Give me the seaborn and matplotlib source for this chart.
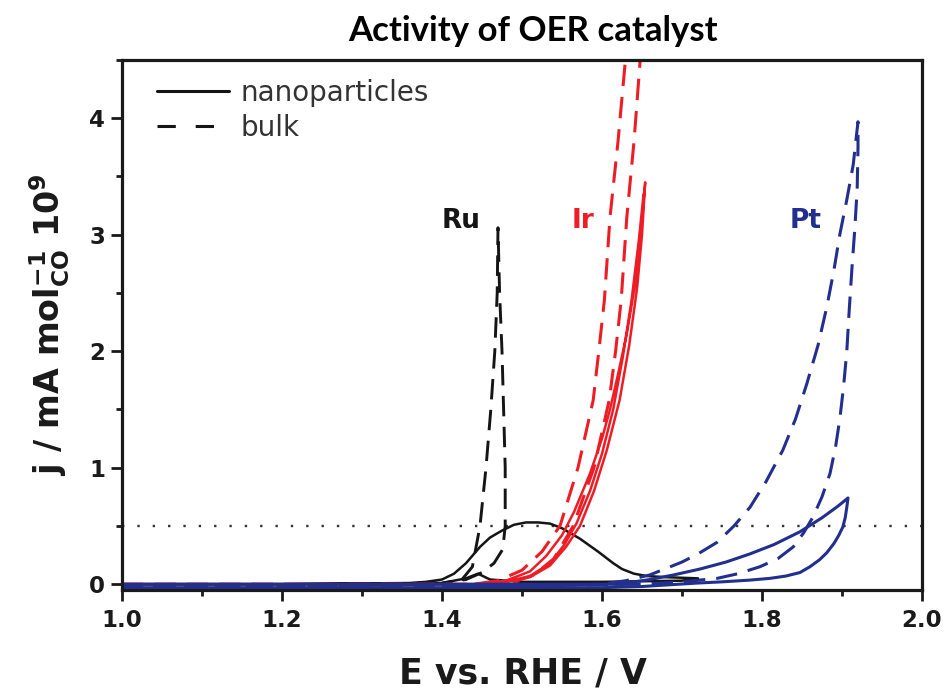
import matplotlib
matplotlib.use("Agg")
import matplotlib.pyplot as plt
import seaborn as sns
from matplotlib.lines import Line2D
from matplotlib.ticker import MultipleLocator

# Ru
ru_np_E = [1.00, 1.20, 1.36, 1.38, 1.40, 1.415, 1.43, 1.44, 1.4475, 1.46, 1.475, 1.49, 1.505, 1.52, 1.535, 1.55,
           1.5725, 1.595, 1.614, 1.625, 1.64, 1.656, 1.68, 1.72,
           1.70, 1.60, 1.50, 1.46, 1.445, 1.43, 1.40, 1.20, 1.00]
ru_np_j = [0.00, 0.00, 0.01, 0.02, 0.04, 0.09, 0.18, 0.26, 0.32, 0.40, 0.46, 0.51, 0.53, 0.53, 0.52, 0.48,
           0.39, 0.28, 0.18, 0.13, 0.09, 0.07, 0.06, 0.05,
           0.03, 0.02, 0.02, 0.04, 0.09, 0.05, 0.01, 0.00, 0.00]
ru_bulk_E = [1.00, 1.30, 1.40, 1.425, 1.438, 1.4475, 1.455, 1.461, 1.466, 1.469, 1.470,
             1.472, 1.475, 1.477, 1.479, 1.479, 1.476, 1.465, 1.45, 1.43, 1.40]
ru_bulk_j = [-0.01, -0.01, 0.00, 0.04, 0.15, 0.50, 1.00, 1.50, 2.00, 2.50, 3.06,
             2.50, 2.00, 1.50, 1.00, 0.50, 0.30, 0.18, 0.10, 0.04, 0.01]

# Ir
ir_np_E = [1.00, 1.30, 1.44, 1.48, 1.51, 1.535, 1.555, 1.5725, 1.59, 1.606, 1.622, 1.634, 1.644, 1.65, 1.654,
           1.649, 1.642, 1.631, 1.62, 1.61, 1.60, 1.585, 1.565, 1.55, 1.53, 1.51, 1.48, 1.44,
           1.48, 1.51, 1.535, 1.553, 1.568, 1.585, 1.60, 1.614, 1.626, 1.637, 1.646, 1.652]
ir_np_j = [0.00, 0.00, 0.00, 0.02, 0.06, 0.16, 0.32, 0.50, 0.80, 1.15, 1.58, 2.05, 2.55, 3.00, 3.45,
           3.05, 2.60, 2.15, 1.80, 1.50, 1.25, 0.95, 0.62, 0.42, 0.24, 0.11, 0.03, 0.00,
           0.02, 0.07, 0.18, 0.34, 0.52, 0.80, 1.12, 1.50, 1.95, 2.44, 2.95, 3.35]
ir_bulk_E = [1.00, 1.30, 1.44, 1.47, 1.50, 1.525, 1.5475, 1.57, 1.589, 1.596, 1.603, 1.61, 1.62, 1.629, 1.634,
             1.652, 1.6475, 1.64, 1.631, 1.624, 1.617, 1.609, 1.59, 1.564, 1.54, 1.515, 1.49, 1.46]
ir_bulk_j = [0.00, 0.00, 0.00, 0.03, 0.12, 0.28, 0.50, 1.00, 1.58, 2.00, 2.44, 3.15, 3.80, 4.48, 4.80,
             4.80, 4.48, 3.80, 3.15, 2.44, 2.00, 1.58, 1.00, 0.50, 0.22, 0.08, 0.02, 0.00]

# Pt
pt_np_E = [1.00, 1.30, 1.55, 1.62, 1.64, 1.66, 1.69, 1.7225, 1.755, 1.785, 1.815, 1.8475, 1.875, 1.895, 1.9075,
           1.906, 1.904, 1.901, 1.896, 1.89, 1.881, 1.872, 1.86, 1.8475, 1.83, 1.81, 1.785, 1.75, 1.72,
           1.65, 1.60, 1.30, 1.00]
pt_np_j = [0.00, 0.00, 0.00, 0.00, 0.02, 0.04, 0.08, 0.13, 0.19, 0.26, 0.34, 0.45, 0.57, 0.67, 0.74,
           0.66, 0.57, 0.49, 0.42, 0.35, 0.27, 0.21, 0.15, 0.10, 0.07, 0.05, 0.035, 0.02, 0.01,
           -0.02, -0.03, -0.03, -0.03]
pt_bulk_E = [1.00, 1.30, 1.55, 1.60, 1.63, 1.66, 1.70, 1.72, 1.744, 1.765, 1.785, 1.805, 1.826, 1.842, 1.856,
             1.87, 1.881, 1.89, 1.8975, 1.906, 1.914, 1.92,
             1.92, 1.919, 1.916, 1.9125, 1.909, 1.906, 1.902, 1.8975, 1.892, 1.885, 1.875, 1.864, 1.852,
             1.839, 1.82, 1.7975, 1.77, 1.744, 1.70, 1.65, 1.55, 1.40]
pt_bulk_j = [-0.015, -0.015, -0.01, 0.00, 0.03, 0.08, 0.19, 0.26, 0.36, 0.50, 0.66, 0.88, 1.15, 1.42, 1.72,
             2.05, 2.38, 2.70, 3.01, 3.30, 3.60, 3.97,
             3.75, 3.40, 3.05, 2.72, 2.35, 2.00, 1.70, 1.43, 1.18, 0.95, 0.75, 0.58, 0.44,
             0.32, 0.22, 0.15, 0.09, 0.05, 0.02, 0.00, -0.01, -0.015]

metal_labels = ["Ru", "Ir", "Pt"]
label_E = [1.424, 1.576, 1.854]
label_j = [3.12, 3.12, 3.12]

BLACK = "#151515"
RED = "#ee1d25"
BLUE = "#222f8e"
DASH = (0, (7, 3.6))

sns.set_style("ticks")
plt.rcParams["font.family"] = ["DejaVu Sans"]
plt.rcParams["axes.edgecolor"] = "#1a1a1a"
plt.rcParams["mathtext.fontset"] = "custom"
plt.rcParams["mathtext.rm"] = "DejaVu Sans:bold"
plt.rcParams["mathtext.it"] = "DejaVu Sans:bold"
plt.rcParams["mathtext.bf"] = "DejaVu Sans:bold"

fig = plt.figure(figsize=(9.47, 6.89), dpi=100)
ax = fig.add_axes([0.12883, 0.14369, 0.84477, 0.76923])


def draw(E, j, color, ls, lw):
    sns.lineplot(x=E, y=j, sort=False, estimator=None, color=color,
                 linestyle=ls, linewidth=lw, ax=ax, legend=False)


ax.axhline(0.5, color="#333333", linestyle=(0, (1, 5.5)), linewidth=1.7, zorder=1)

draw(ru_np_E, ru_np_j, BLACK, "-", 1.8)
draw(ru_bulk_E, ru_bulk_j, BLACK, DASH, 2.1)
draw(ir_np_E, ir_np_j, RED, "-", 1.8)
draw(ir_bulk_E, ir_bulk_j, RED, DASH, 2.2)
draw(pt_bulk_E, pt_bulk_j, BLUE, DASH, 2.2)
draw(pt_np_E, pt_np_j, BLUE, "-", 2.2)

for name, e, jj, c in zip(metal_labels, label_E, label_j, [BLACK, RED, BLUE]):
    ax.text(e, jj, name, color=c, fontsize=19, fontweight="bold", ha="center", va="center")

ax.set_xlim(1.0, 2.0)
ax.set_ylim(-0.05, 4.5)
ax.xaxis.set_major_locator(MultipleLocator(0.2))
ax.xaxis.set_minor_locator(MultipleLocator(0.1))
ax.yaxis.set_major_locator(MultipleLocator(1))
ax.yaxis.set_minor_locator(MultipleLocator(0.5))
ax.tick_params(which="both", direction="out", width=2, color="#1a1a1a", top=False, right=False)
ax.tick_params(which="major", length=8, pad=4, labelsize=16.5)
ax.tick_params(axis="x", which="major", pad=6)
ax.tick_params(which="minor", length=4.5)
for t in ax.get_xticklabels() + ax.get_yticklabels():
    t.set_fontweight("bold")
    t.set_color("#1a1a1a")
for s in ax.spines.values():
    s.set_linewidth(2.3)
    s.set_visible(True)

ax.set_xlabel("E vs. RHE / V", fontsize=25, fontweight="bold", color="#1a1a1a")
ax.set_ylabel(r"j / mA mol$_{\mathrm{CO}}^{\mathrm{-1}}$ 10$^{\mathrm{9}}$",
              fontsize=24, fontweight="bold", color="#1a1a1a")
ax.xaxis.set_label_coords(0.501, -0.125)
ax.yaxis.set_label_coords(-0.062, 0.5)

handles = [Line2D([], [], color=BLACK, linewidth=2.2, linestyle="-"),
           Line2D([], [], color=BLACK, linewidth=2.2, linestyle=(0, (6, 6.5)))]
ax.legend(handles, ["nanoparticles", "bulk"], loc="upper left", bbox_to_anchor=(0.03, 0.985),
          frameon=False, fontsize=20, handlelength=2.6, handletextpad=0.4,
          labelspacing=0.25, borderaxespad=0, labelcolor="#333333")

fig.text(533 / 947, 1 - 31 / 689, "Activity of OER catalyst", family=["Lato", "DejaVu Sans"],
         fontweight="bold", fontsize=25, ha="center", va="center", color="black")

fig.savefig("out.png", dpi=100)
